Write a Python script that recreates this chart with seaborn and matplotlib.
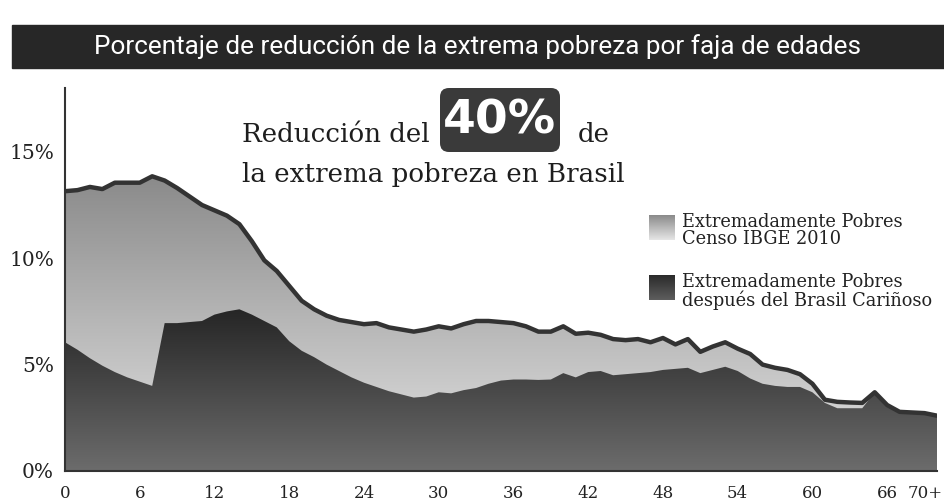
import numpy as np
import pandas as pd
import seaborn as sns
import matplotlib.pyplot as plt
from matplotlib.patches import FancyBboxPatch, Rectangle
from matplotlib.colors import LinearSegmentedColormap
from matplotlib.transforms import Affine2D, ScaledTranslation

# Data (% of each age group in extreme poverty)
ages = list(range(0, 71))
censo = [13.15, 13.2, 13.35, 13.25, 13.55, 13.55, 13.55, 13.85, 13.65, 13.3,
         12.9, 12.5, 12.25, 12.0, 11.6, 10.8, 9.9, 9.4, 8.7, 8.0,
         7.6, 7.3, 7.1, 7.0, 6.9, 6.95, 6.75, 6.65, 6.55, 6.65,
         6.8, 6.7, 6.9, 7.05, 7.05, 7.0, 6.95, 6.8, 6.55, 6.55,
         6.8, 6.45, 6.5, 6.4, 6.2, 6.15, 6.2, 6.05, 6.25, 5.95,
         6.2, 5.6, 5.85, 6.05, 5.75, 5.5, 5.0, 4.85, 4.75, 4.55,
         4.1, 3.35, 3.25, 3.22, 3.2, 3.7, 3.1, 2.78, 2.75, 2.72,
         2.6]
despues = [6.05, 5.7, 5.3, 4.95, 4.65, 4.4, 4.2, 4.0, 6.95, 6.95,
           7.0, 7.05, 7.35, 7.5, 7.6, 7.35, 7.05, 6.75, 6.1, 5.65,
           5.35, 5.0, 4.7, 4.4, 4.15, 3.95, 3.75, 3.6, 3.45, 3.5,
           3.7, 3.65, 3.8, 3.9, 4.1, 4.25, 4.3, 4.3, 4.28, 4.3,
           4.6, 4.4, 4.65, 4.7, 4.5, 4.55, 4.6, 4.65, 4.75, 4.8,
           4.85, 4.6, 4.75, 4.9, 4.7, 4.35, 4.1, 4.0, 3.95, 3.95,
           3.7, 3.2, 2.95, 2.95, 2.95, 3.7, 3.05, 2.75, 2.73, 2.72,
           2.6]
tick_ages = [0, 6, 12, 18, 24, 30, 36, 42, 48, 54, 60, 66, 70]
tick_labels = ['0', '6', '12', '18', '24', '30', '36', '42', '48', '54', '60', '66', '70+']
y_ticks = [0, 5, 10, 15]
y_labels = ['0%', '5%', '10%', '15%']

df = pd.DataFrame({'edad': ages, 'censo': censo, 'despues': despues})

sns.set_style('white')
plt.rcParams['font.family'] = ['DejaVu Serif']

W, H = 944, 503
fig = plt.figure(figsize=(W / 100, H / 100), dpi=100)
# pixel coords, origin top-left
px = Affine2D().scale(1 / W, -1 / H).translate(0, 1) + fig.transFigure

ax = fig.add_axes([65 / W, 1 - 471 / H, 872 / W, 383 / H])

light = LinearSegmentedColormap.from_list('light', ['#888888', '#e4e4e4'])
dark = LinearSegmentedColormap.from_list('dark', ['#242424', '#6c6c6c'])
grad = np.linspace(0, 1, 256).reshape(-1, 1)

# light area (census), gradient clipped to the filled shape
poly = ax.fill_between(df['edad'], 0, df['censo'], color='none', lw=0)
im = ax.imshow(grad, cmap=light, aspect='auto', extent=[0, 70, 0, 14.2], origin='upper', zorder=1)
im.set_clip_path(poly.get_paths()[0], ax.transData)

# dark area (after Brasil Cariñoso)
poly2 = ax.fill_between(df['edad'], 0, df['despues'], color='none', lw=0)
im2 = ax.imshow(grad, cmap=dark, aspect='auto', extent=[0, 70, 0, 7.8], origin='upper', zorder=2)
im2.set_clip_path(poly2.get_paths()[0], ax.transData)

sns.lineplot(data=df, x='edad', y='censo', color='#333333', lw=3.2, ax=ax, zorder=3)

ax.set_xlim(0, 70)
ax.set_ylim(0, 18)
ax.set_xlabel('')
ax.set_ylabel('')
ax.set_xticks(tick_ages, tick_labels)
ax.set_xticks(range(0, 71), minor=True)
ax.set_yticks(y_ticks, y_labels)
for s in ['top', 'right']:
    ax.spines[s].set_visible(False)
for s in ['left', 'bottom']:
    ax.spines[s].set_color('#333333')
    ax.spines[s].set_linewidth(1.5)
ax.tick_params(axis='x', which='both', direction='out', length=7, width=1.4,
               color='#333333', labelsize=12, labelcolor='#222222', pad=3)
ax.tick_params(axis='y', direction='out', length=6, width=1.4,
               color='#333333', labelsize=14.5, labelcolor='#222222', pad=2)
# keep "70+" inside the picture
last = ax.get_xticklabels()[-1]
last.set_transform(last.get_transform() + ScaledTranslation(-12 / 100, 0, fig.dpi_scale_trans))

# title banner
fig.patches.append(Rectangle((12, 25), 940, 43, transform=px, color='#272727'))
fig.text(478, 47, 'Porcentaje de reducción de la extrema pobreza por faja de edades',
         transform=px, ha='center', va='center', color='white', fontsize=18.8,
         family=['Roboto', 'DejaVu Sans'])

# "40%" annotation
fig.text(242, 142, 'Reducción del', transform=px, ha='left', va='baseline',
         fontsize=18.8, color='#1e1e1e')
fig.text(578, 142, 'de', transform=px, ha='left', va='baseline',
         fontsize=18.8, color='#1e1e1e')
fig.text(242, 182, 'la extrema pobreza en Brasil', transform=px, ha='left',
         va='baseline', fontsize=18.8, color='#1e1e1e')
fig.patches.append(FancyBboxPatch((446, 94), 108, 52, boxstyle='round,pad=6,rounding_size=9',
                                  transform=px, facecolor='#3a3a3a', edgecolor='none'))
fig.text(499, 121, '40%', transform=px, ha='center', va='center', color='white',
         fontsize=34, fontweight='bold', family=['DejaVu Sans'])

# legend
for top, cmap, label in [(215, LinearSegmentedColormap.from_list('l1', ['#8a8a8a', '#e6e6e6']),
                          'Extremadamente Pobres\nCenso IBGE 2010'),
                         (275, LinearSegmentedColormap.from_list('l2', ['#2a2a2a', '#5e5e5e']),
                          'Extremadamente Pobres\ndespués del Brasil Cariñoso')]:
    lax = fig.add_axes([649 / W, 1 - (top + 25) / H, 26 / W, 25 / H])
    lax.imshow(grad, cmap=cmap, aspect='auto')
    lax.axis('off')
    fig.text(682, top - 2, label, transform=px, ha='left', va='top', fontsize=12.8,
             color='#222222', linespacing=0.95)

fig.savefig('out.png', dpi=100)
